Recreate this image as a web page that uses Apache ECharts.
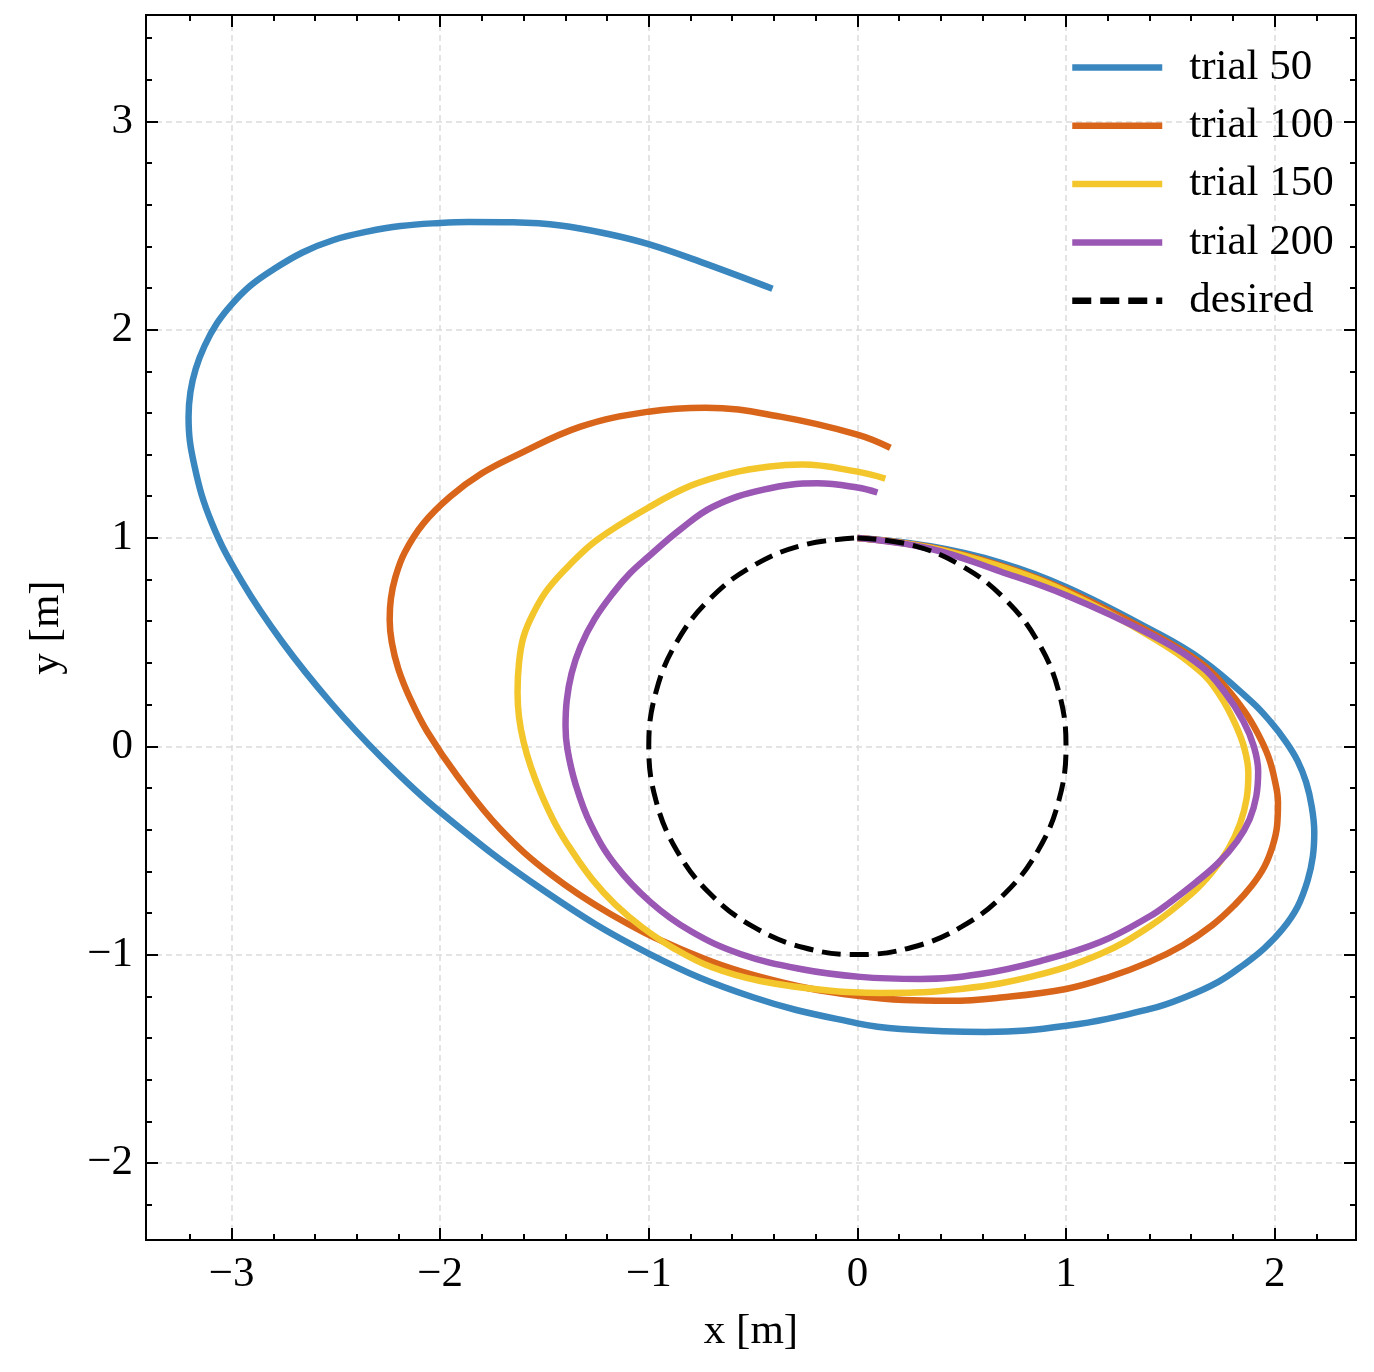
<!DOCTYPE html>
<html>
<head>
<meta charset="utf-8">
<script src="https://cdn.jsdelivr.net/npm/echarts@6/dist/echarts.min.js"></script>
<style>
  html, body { margin: 0; padding: 0; background: #fff; }
  #chart { width: 1374px; height: 1372px; }
</style>
</head>
<body>
<div id="chart"></div>
<script>
// tick positions
const majorX = [-3, -2, -1, 0, 1, 2];
const minorX = [-3.2, -2.8, -2.6, -2.4, -2.2, -1.8, -1.6, -1.4, -1.2, -0.8, -0.6, -0.4, -0.2,
                0.2, 0.4, 0.6, 0.8, 1.2, 1.4, 1.6, 1.8, 2.2];
const majorY = [-2, -1, 0, 1, 2, 3];
const minorY = [-2.2, -1.8, -1.6, -1.4, -1.2, -0.8, -0.6, -0.4, -0.2, 0.2, 0.4, 0.6, 0.8,
                1.2, 1.4, 1.6, 1.8, 2.2, 2.4, 2.6, 2.8, 3.2, 3.4];

const seriesNames = ['trial 50', 'trial 100', 'trial 150', 'trial 200', 'desired'];

// trajectories, [x, y] in metres
const trial50 = [
  [0, 1.0], [0.35, 0.96], [0.685, 0.882], [1.0, 0.765], [1.404, 0.561], [1.648, 0.417],
  [1.893, 0.211], [1.98, 0.118], [2.056, 0.019], [2.11, -0.07], [2.151, -0.173], [2.178, -0.29],
  [2.190, -0.412], [2.183, -0.53], [2.158, -0.645], [2.11, -0.77], [2.04, -0.875], [1.95, -0.97],
  [1.85, -1.05], [1.73, -1.131], [1.57, -1.205], [1.404, -1.261], [1.001, -1.342], [0.613, -1.371],
  [0.206, -1.357], [0, -1.330], [-0.5, -1.205], [-1.0, -0.995], [-1.5, -0.695], [-2.0, -0.315],
  [-2.286, -0.049], [-2.525, 0.210], [-2.755, 0.498], [-2.950, 0.790], [-3.095, 1.073],
  [-3.178, 1.347], [-3.206, 1.582], [-3.197, 1.70], [-3.172, 1.81], [-3.13, 1.92], [-3.07, 2.03],
  [-3.0, 2.12], [-2.91, 2.21], [-2.813, 2.28], [-2.66, 2.37], [-2.511, 2.43], [-2.35, 2.47],
  [-2.19, 2.497], [-2.0, 2.512], [-1.864, 2.517], [-1.65, 2.515], [-1.423, 2.50], [-1.2, 2.46],
  [-1.001, 2.41], [-0.752, 2.325], [-0.407, 2.196]
];
const trial100 = [
  [0, 1.0], [0.35, 0.955], [0.685, 0.868], [1.0, 0.75], [1.404, 0.547], [1.643, 0.403],
  [1.76, 0.29], [1.859, 0.163], [1.92, 0.06], [1.97, -0.05], [2.0, -0.16], [2.016, -0.27],
  [2.012, -0.38], [1.99, -0.48], [1.95, -0.58], [1.89, -0.67], [1.81, -0.76], [1.70, -0.86],
  [1.56, -0.955], [1.40, -1.035], [1.20, -1.11], [1.0, -1.165], [0.7, -1.205], [0.446, -1.222],
  [0, -1.198], [-0.465, -1.107], [-0.848, -0.973], [-1.184, -0.805], [-1.471, -0.614],
  [-1.711, -0.398], [-1.917, -0.144], [-2.060, 0.067], [-2.142, 0.225], [-2.20, 0.37],
  [-2.232, 0.50], [-2.242, 0.609], [-2.236, 0.71], [-2.215, 0.81], [-2.17, 0.93], [-2.08, 1.07],
  [-1.95, 1.20], [-1.80, 1.31], [-1.648, 1.390], [-1.327, 1.534], [-1.001, 1.606],
  [-0.728, 1.625], [-0.369, 1.582], [0, 1.496], [0.158, 1.433]
];
const trial150 = [
  [0, 1.0], [0.35, 0.953], [0.685, 0.863], [1.0, 0.742], [1.404, 0.527], [1.648, 0.355],
  [1.74, 0.24], [1.81, 0.11], [1.855, -0.01], [1.874, -0.13], [1.866, -0.25], [1.835, -0.37],
  [1.78, -0.49], [1.70, -0.605], [1.60, -0.71], [1.404, -0.863], [1.164, -0.997], [0.829, -1.107],
  [0.446, -1.170], [0.110, -1.184], [-0.129, -1.174], [-0.465, -1.127], [-0.70, -1.06],
  [-0.88, -0.97], [-1.03, -0.87], [-1.16, -0.76], [-1.27, -0.64], [-1.37, -0.50], [-1.447, -0.374],
  [-1.515, -0.23], [-1.565, -0.10], [-1.60, 0.02], [-1.622, 0.14], [-1.629, 0.259], [-1.622, 0.40],
  [-1.600, 0.527], [-1.55, 0.645], [-1.485, 0.753], [-1.38, 0.87], [-1.246, 0.992], [-1.001, 1.146],
  [-0.8, 1.25], [-0.609, 1.31], [-0.42, 1.343], [-0.264, 1.352], [0, 1.318], [0.134, 1.285]
];
const trial200 = [
  [0, 1.0], [0.35, 0.948], [0.685, 0.839], [1.0, 0.725], [1.404, 0.537], [1.648, 0.384],
  [1.76, 0.26], [1.85, 0.12], [1.90, 0.0], [1.921, -0.12], [1.912, -0.24], [1.88, -0.35],
  [1.82, -0.455], [1.73, -0.56], [1.62, -0.655], [1.5, -0.748], [1.404, -0.815], [1.164, -0.940],
  [0.877, -1.031], [0.589, -1.093], [0.302, -1.117], [0.014, -1.107], [-0.273, -1.069],
  [-0.561, -0.997], [-0.800, -0.887], [-0.992, -0.748], [-1.160, -0.570], [-1.279, -0.374],
  [-1.351, -0.182], [-1.390, -0.014], [-1.399, 0.096], [-1.393, 0.22], [-1.37, 0.35],
  [-1.327, 0.479], [-1.26, 0.61], [-1.169, 0.738], [-1.09, 0.83], [-1.001, 0.911], [-0.85, 1.04],
  [-0.690, 1.151], [-0.45, 1.232], [-0.192, 1.262], [0, 1.242], [0.096, 1.218]
];
const desired = [
  [0, 1], [0.259, 0.966], [0.5, 0.866], [0.707, 0.707], [0.866, 0.5], [0.966, 0.259], [1, 0],
  [0.966, -0.259], [0.866, -0.5], [0.707, -0.707], [0.5, -0.866], [0.259, -0.966], [0, -1],
  [-0.259, -0.966], [-0.5, -0.866], [-0.707, -0.707], [-0.866, -0.5], [-0.966, -0.259], [-1, 0],
  [-0.966, 0.259], [-0.866, 0.5], [-0.707, 0.707], [-0.5, 0.866], [-0.259, 0.966], [0, 1]
];

const FONT = 'Liberation Serif';
const colors = ['#3a87bf', '#d9651b', '#f3c62c', '#9a57b4', '#000000'];
const xRange = [-3.41, 2.39];
const yRange = [-2.37, 3.51];

const fmt = v => String(v).replace('-', '\u2212');

// one spine side: ticks pointing inwards, optional labels / grid
function makeAxis(position, range, ticks, len, withLabels, withGrid, name, nameGap) {
  return {
    type: 'value',
    position: position,
    min: range[0],
    max: range[1],
    name: name || '',
    nameLocation: 'middle',
    nameGap: nameGap || 0,
    nameTextStyle: { fontFamily: FONT, fontSize: 43, color: '#000' },
    axisLine: { show: true, onZero: false, lineStyle: { color: '#000', width: 2 } },
    axisTick: {
      show: true, inside: true, length: len, customValues: ticks,
      lineStyle: { color: '#000', width: 2 }
    },
    minorTick: { show: false },
    axisLabel: {
      show: withLabels, customValues: ticks, margin: 13,
      fontFamily: FONT, fontSize: 43, color: '#000', formatter: fmt
    },
    splitLine: {
      show: withGrid,
      lineStyle: { color: '#dcdcdc', width: 1.5, type: [6, 4] }
    }
  };
}

const chart = echarts.init(document.getElementById('chart'));

const lineSeries = (name, data, color, width, dashed) => ({
  name: name,
  type: 'line',
  data: data,
  xAxisIndex: 0,
  yAxisIndex: 0,
  smooth: 0.4,
  symbol: 'none',
  showSymbol: false,
  itemStyle: { color: color },
  lineStyle: { color: color, width: width, type: dashed ? [19, 9] : 'solid' }
});

chart.setOption({
  animation: false,
  backgroundColor: '#fff',
  grid: { left: 146, right: 18, top: 15, bottom: 132, containLabel: false },
  xAxis: [
    makeAxis('bottom', xRange, majorX, 12, true, true, 'x [m]', 70),
    makeAxis('bottom', xRange, minorX, 6, false, false),
    makeAxis('top', xRange, majorX, 12, false, false),
    makeAxis('top', xRange, minorX, 6, false, false)
  ],
  yAxis: [
    makeAxis('left', yRange, majorY, 12, true, true, 'y [m]', 78),
    makeAxis('left', yRange, minorY, 6, false, false),
    makeAxis('right', yRange, majorY, 12, false, false),
    makeAxis('right', yRange, minorY, 6, false, false)
  ],
  legend: {
    orient: 'vertical',
    left: 1064,
    top: 41,
    itemWidth: 90,
    itemHeight: 14,
    itemGap: 15.3,
    itemStyle: { opacity: 0 },
    lineStyle: { width: 6.5 },
    textStyle: { fontFamily: FONT, fontSize: 43, lineHeight: 43, color: '#000', padding: [0, 0, 0, 22] },
    data: seriesNames
  },
  series: [
    lineSeries(seriesNames[0], trial50, colors[0], 6.5, false),
    lineSeries(seriesNames[1], trial100, colors[1], 6.5, false),
    lineSeries(seriesNames[2], trial150, colors[2], 6.5, false),
    lineSeries(seriesNames[3], trial200, colors[3], 6.5, false),
    lineSeries(seriesNames[4], desired, colors[4], 5, true)
  ]
});

window.addEventListener('resize', () => chart.resize());
</script>
</body>
</html>
